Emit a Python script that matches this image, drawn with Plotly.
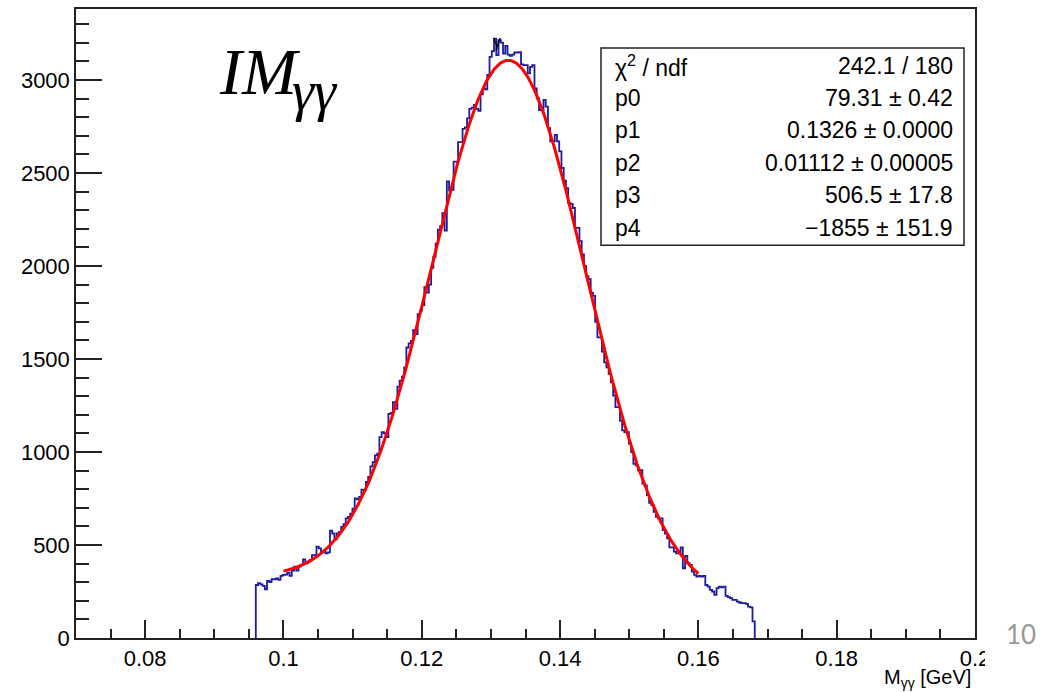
import numpy as np
import plotly.graph_objects as go

# ---------------- data ----------------
hist_x_min = 0.07          # histogram lower edge
bin_width = 0.000325       # 400 bins over 0.07 - 0.20
first_bin = 80             # index of first non-empty bin
counts = [
    285, 295, 288, 280, 262, 307, 300, 316, 316, 320,
    313, 334, 339, 341, 351, 334, 362, 384, 362, 384,
    393, 423, 402, 410, 420, 446, 446, 491, 482, 461,
    465, 455, 460, 577, 562, 530, 562, 571, 598, 612,
    643, 651, 669, 696, 750, 745, 759, 798, 795, 839,
    866, 923, 946, 982, 991, 1080, 1107, 1100, 1080, 1205,
    1210, 1268, 1232, 1352, 1384, 1405, 1455, 1562, 1584, 1598,
    1655, 1634, 1741, 1760, 1790, 1887, 1857, 1900, 1990, 2050,
    2120, 2196, 2214, 2285, 2191, 2455, 2405, 2410, 2561, 2561,
    2666, 2666, 2737, 2745, 2794, 2845, 2852, 2866, 2845, 2834,
    2923, 2955, 2950, 3027, 3125, 3155, 3223, 3134, 3214, 3201,
    3142, 3184, 3137, 3130, 3137, 3148, 3148, 3150, 3084, 3080,
    3080, 3036, 3071, 3080, 2955, 2902, 2839, 2839, 2893, 2857,
    2741, 2670, 2670, 2705, 2670, 2616, 2527, 2459, 2419, 2339,
    2334, 2312, 2205, 2205, 2134, 2063, 2000, 1946, 1929, 1857,
    1839, 1700, 1616, 1616, 1540, 1482, 1455, 1420, 1375, 1303,
    1241, 1241, 1169, 1116, 1107, 1107, 1045, 1000, 937, 928,
    902, 902, 830, 821, 768, 727, 714, 678, 651, 643,
    643, 580, 562, 536, 487, 487, 464, 455, 455, 487,
    375, 441, 402, 393, 357, 339, 330, 334, 330, 334,
    285, 276, 259, 250, 232, 268, 276, 272, 276, 227,
    220, 214, 205, 205, 196, 191, 187, 187, 184, 169,
    165, 89,
]

# fit: p0 * gausn(p1, p2) + p3 + p4 * x
fit_params = [79.31, 0.1326, 0.01112, 506.5, -1855.0]
fit_range = [0.1, 0.16]

stat_labels = ["χ<sup>2</sup> / ndf", "p0", "p1", "p2", "p3", "p4"]
stat_values = ["242.1 / 180", "79.31 ± 0.42", "0.1326 ± 0.0000",
               "0.01112 ± 0.00005", "506.5 ± 17.8", "−1855 ± 151.9"]

x_tick_vals = [0.08, 0.1, 0.12, 0.14, 0.16, 0.18, 0.2]
x_tick_text = ["0.08", "0.1", "0.12", "0.14", "0.16", "0.18", "0.2"]
y_tick_vals = [0, 500, 1000, 1500, 2000, 2500, 3000]
y_tick_text = ["0", "500", "1000", "1500", "2000", "2500", "3000"]
x_range = [0.07, 0.2]
y_range = [0, 3382]

# ---------------- geometry ----------------
W, H = 1056, 692
L, R, T, B = 76, 81, 7, 54


def px(x):
    return (x - L) / (W - L - R)


def py(y):
    return (H - B - y) / (H - T - B)


# ---------------- traces ----------------
n = len(counts)
edges = [hist_x_min + (first_bin + i) * bin_width for i in range(n + 1)]
hx = [edges[0]] + edges[:-1] + [edges[-1]]
hy = [0] + counts + [0]

p0, p1, p2, p3, p4 = fit_params
fx = np.linspace(fit_range[0], fit_range[1], 400)
fy = p0 / (np.sqrt(2 * np.pi) * p2) * np.exp(-0.5 * ((fx - p1) / p2) ** 2) + p3 + p4 * fx

fig = go.Figure()
fig.add_trace(go.Scatter(x=hx, y=hy, mode="lines", line=dict(color="#1c1c9c", width=1.8, shape="hv"),
                         hoverinfo="skip", showlegend=False))
fig.add_trace(go.Scatter(x=fx, y=fy, mode="lines", line=dict(color="#ff0000", width=3),
                         hoverinfo="skip", showlegend=False))

tickfont = dict(family="Liberation Sans, Arial, sans-serif", size=22, color="black")
axis_common = dict(showline=True, linecolor="#222", linewidth=1.5, mirror=True,
                   ticks="inside", tickcolor="#222", tickwidth=1.5,
                   showgrid=False, zeroline=False, tickfont=tickfont, tickmode="array")

fig.update_xaxes(range=x_range, tickvals=x_tick_vals, ticktext=x_tick_text, ticklen=18,
                 minor=dict(ticks="inside", ticklen=9, tickmode="linear", tick0=0.07, dtick=0.005,
                            tickcolor="#222", tickwidth=1.5, showgrid=False),
                 **axis_common)
fig.update_yaxes(range=y_range, tickvals=y_tick_vals, ticktext=y_tick_text, ticklen=26,
                 minor=dict(ticks="inside", ticklen=13, tickmode="linear", tick0=0, dtick=100,
                            tickcolor="#222", tickwidth=1.5, showgrid=False),
                 **axis_common)

stat_font = dict(family="Liberation Sans, Arial", size=23, color="black")
annotations = []
row_y = [64, 96, 128, 161, 194, 227]
for lab, val, yy in zip(stat_labels, stat_values, row_y):
    annotations.append(dict(x=px(613), y=py(yy), xref="paper", yref="paper", text=lab,
                            showarrow=False, xanchor="left", yanchor="middle", font=stat_font))
    annotations.append(dict(x=px(955), y=py(yy), xref="paper", yref="paper", text=val,
                            showarrow=False, xanchor="right", yanchor="middle", font=stat_font))

annotations.append(dict(x=px(217), y=py(70), xref="paper", yref="paper", text="<i>IM</i>",
                        showarrow=False, xanchor="left", yanchor="middle",
                        font=dict(family="Liberation Serif, serif", size=66, color="black")))
annotations.append(dict(x=px(290), y=py(89), xref="paper", yref="paper", text="<i>γγ</i>",
                        showarrow=False, xanchor="left", yanchor="middle",
                        font=dict(family="Liberation Serif, serif", size=56, color="black")))
annotations.append(dict(x=px(497), y=py(40), xref="paper", yref="paper", text="γ",
                        showarrow=False, xanchor="center", yanchor="middle",
                        font=dict(family="Liberation Sans, Arial", size=16, color="black")))
annotations.append(dict(x=px(973), y=py(679), xref="paper", yref="paper",
                        text="M<sub>γγ</sub> [GeV]", showarrow=False, xanchor="right", yanchor="middle",
                        font=dict(family="Liberation Sans, Arial", size=20, color="black")))
annotations.append(dict(x=px(1021), y=py(634), xref="paper", yref="paper", text="10",
                        showarrow=False, xanchor="center", yanchor="middle",
                        font=dict(family="Lato, Open Sans, sans-serif", size=26, color="#979797")))

shapes = [
    dict(type="rect", xref="paper", yref="paper", x0=px(601), x1=px(964), y0=py(244), y1=py(46),
         line=dict(color="#222", width=1.5), fillcolor="rgba(0,0,0,0)", layer="above"),
    dict(type="rect", xref="paper", yref="paper", x0=px(985), x1=px(1000), y0=py(666), y1=py(643),
         line=dict(width=0), fillcolor="white", layer="above"),
]

fig.update_layout(width=W, height=H, margin=dict(l=L, r=R, t=T, b=B),
                  paper_bgcolor="white", plot_bgcolor="white",
                  annotations=annotations, shapes=shapes, showlegend=False)

fig.write_html("out.html")
